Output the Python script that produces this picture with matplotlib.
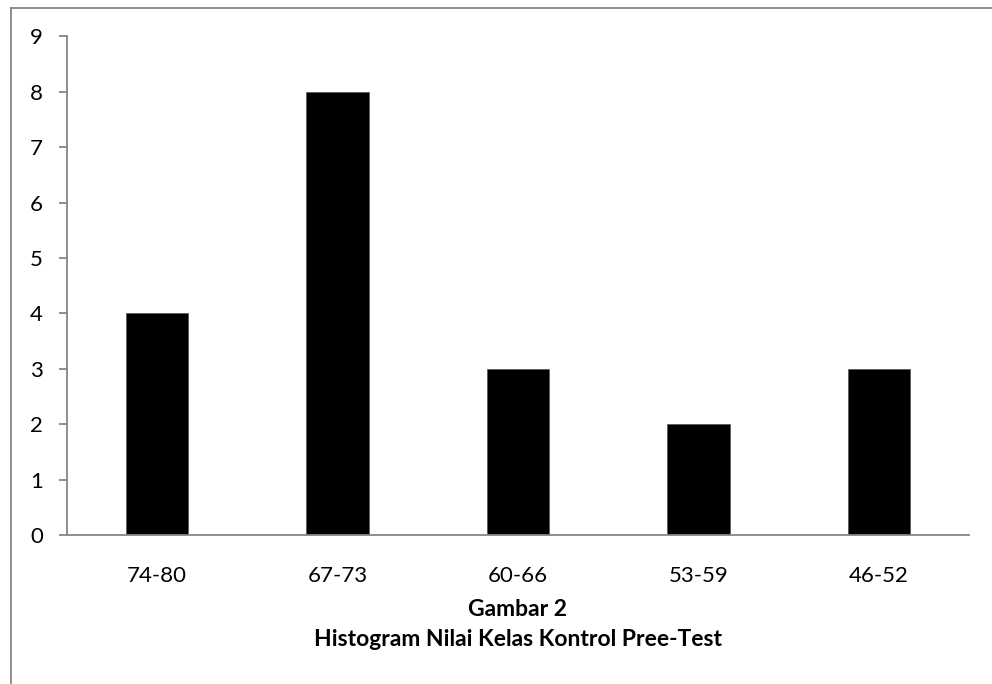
import matplotlib.pyplot as plt
from matplotlib.lines import Line2D

plt.rcParams['font.family'] = ['Lato', 'DejaVu Sans']

categories = ["74-80", "67-73", "60-66", "53-59", "46-52"]
counts = [4, 8, 3, 2, 3]
yticks = [0, 1, 2, 3, 4, 5, 6, 7, 8, 9]

fig = plt.figure(figsize=(9.92, 6.84), dpi=100)
ax = fig.add_axes([0.0672, 0.2178, 0.977 - 0.0672, 0.947 - 0.2178])

x = range(len(categories))
ax.bar(x, counts, width=0.345, color="black", edgecolor="#555555", linewidth=0.5)

ax.set_xlim(-0.5, len(categories) - 0.5)
ax.set_ylim(0, 9)
ax.set_yticks(yticks)
ax.set_xticks(list(x))
ax.set_xticklabels(categories)

for s in ["top", "right"]:
    ax.spines[s].set_visible(False)
for s in ["left", "bottom"]:
    ax.spines[s].set_color("#868686")
    ax.spines[s].set_linewidth(1.3)

ax.tick_params(axis="y", length=6, width=1.3, color="#868686", labelsize=16, pad=11)
ax.tick_params(axis="x", length=0, labelsize=16, pad=22)

# the x axis line runs a little past the y axis, like the tick marks
ax.add_line(Line2D([58 / 992, 67 / 992], [1 - 535 / 684] * 2, transform=fig.transFigure,
                   color="#868686", linewidth=1.3))

cx = 518 / 992
fig.text(cx, 1 - 609 / 684, "Gambar 2", ha="center", va="center",
         fontsize=16.5, fontweight="bold")
fig.text(cx, 1 - 640 / 684, "Histogram Nilai Kelas Kontrol Pree-Test", ha="center",
         va="center", fontsize=16.5, fontweight="bold")

# outer chart border (only top and left visible)
fig.add_artist(Line2D([10.5 / 992, 1], [1 - 7.5 / 684] * 2, transform=fig.transFigure,
                      color="#868686", linewidth=1.3))
fig.add_artist(Line2D([10.5 / 992] * 2, [0, 1 - 7.5 / 684], transform=fig.transFigure,
                      color="#868686", linewidth=1.3))

fig.savefig("out.png", dpi=100)
